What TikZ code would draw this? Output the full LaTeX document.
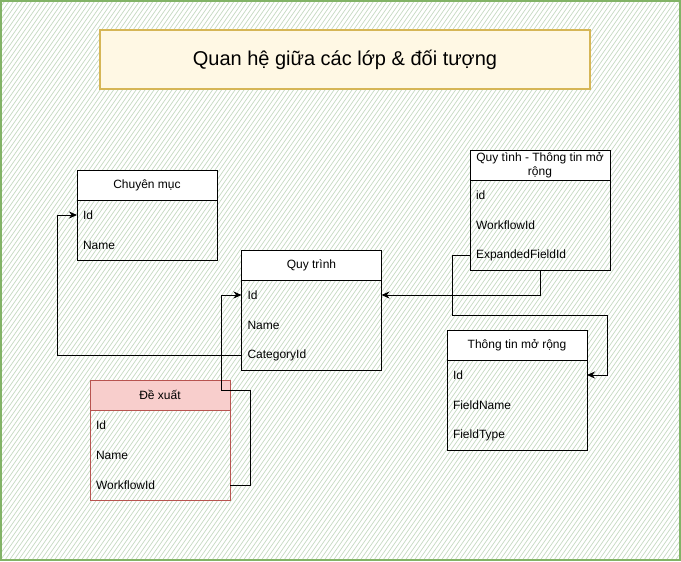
\documentclass[tikz,border=0pt]{standalone}
\usepackage{fontspec}
\setmainfont{Liberation Sans}
\usetikzlibrary{positioning, arrows.meta}
\definecolor{framegreen}{HTML}{82B366}
\definecolor{hatchgreen}{HTML}{C6DAC2}
\definecolor{titlefill}{HTML}{FFF8E4}
\definecolor{titleline}{HTML}{D6B656}
\definecolor{redfill}{HTML}{F8CECC}
\definecolor{redline}{HTML}{B85450}

\begin{document}
\begin{tikzpicture}[x=1pt, y=-1pt,
    every node/.style={font=\fontsize{12}{14}\selectfont, outer sep=0pt},
    hdr/.style={draw, line width=1pt, fill=white, minimum width=140pt, minimum height=30pt, inner sep=1pt, align=center},
    fld/.style={minimum width=140pt, minimum height=30pt, text width=128pt, inner xsep=6pt, inner ysep=0pt, align=left},
    link/.style={-{Stealth[length=8pt,width=7pt]}, line width=1pt},
  ]
  \useasboundingbox (0,0) rectangle (681,562);

  % background
  \fill[white] (1,1) rectangle (680,560);
  \begin{scope}
    \clip (1,1) rectangle (680,560);
    \foreach \hx in {-400,-395.5,...,680}
      \draw[hatchgreen, line width=0.7pt] (\hx,560) -- ++(392,-560);
  \end{scope}
  \draw[framegreen, line width=1.4pt] (1,1) rectangle (680,560);

  % title
  \node[draw=titleline, line width=1.2pt, fill=titlefill, minimum width=490pt, minimum height=59pt,
    font=\fontsize{20}{24}\selectfont] (title) at (345,59.5) {Quan hệ giữa các lớp \& đối tượng};

  % Chuyen muc
  \node[hdr] (cat) at (147,185) {Chuyên mục};
  \node[fld, below=0pt of cat] (catId) {Id};
  \node[fld, below=0pt of catId] (catName) {Name};
  \draw[line width=1pt] (cat.south west) rectangle (catName.south east);

  % Quy trinh
  \node[hdr] (wf) at (311.5,265) {Quy trình};
  \node[fld, below=0pt of wf] (wfId) {Id};
  \node[fld, below=0pt of wfId] (wfName) {Name};
  \node[fld, below=0pt of wfName] (wfCat) {CategoryId};
  \draw[line width=1pt] (wf.south west) rectangle (wfCat.south east);

  % Quy tinh - Thong tin mo rong
  \node[hdr] (wfx) at (540,165) {Quy tình - Thông tin mở\\rộng};
  \node[fld, below=0pt of wfx] (wfxId) {id};
  \node[fld, below=0pt of wfxId] (wfxWf) {WorkflowId};
  \node[fld, below=0pt of wfxWf] (wfxFid) {ExpandedFieldId};
  \draw[line width=1pt] (wfx.south west) rectangle (wfxFid.south east);

  % De xuat
  \node[hdr, draw=redline, fill=redfill] (prop) at (160,395) {Đề xuất};
  \node[fld, below=0pt of prop] (propId) {Id};
  \node[fld, below=0pt of propId] (propName) {Name};
  \node[fld, below=0pt of propName] (propWf) {WorkflowId};
  \draw[redline, line width=1pt] (prop.south west) rectangle (propWf.south east);

  % Thong tin mo rong
  \node[hdr] (xf) at (517,345) {Thông tin mở rộng};
  \node[fld, below=0pt of xf] (xfId) {Id};
  \node[fld, below=0pt of xfId] (xfName) {FieldName};
  \node[fld, below=0pt of xfName] (xfType) {FieldType};
  \draw[line width=1pt] (xf.south west) rectangle (xfType.south east);

  % links
  \draw[link] (wfCat.west) -| ([xshift=-20pt]catId.west) -- (catId.west);
  \draw[link] (propWf.east) -- ++(20,0) -- ++(0,-95) -- ++(-29,0) |- (wfId.west);
  \draw[link] (wfxFid.south) |- (wfId.east);
  \draw[link] (wfxFid.west) -- ++(-18,0) -- ++(0,60) -| ([xshift=20pt]xfId.east) -- (xfId.east);
\end{tikzpicture}
\end{document}
